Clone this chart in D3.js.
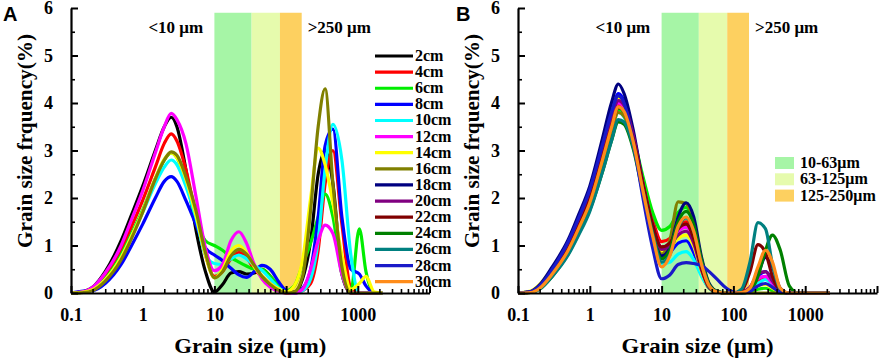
<!DOCTYPE html>
<html>
<head>
<meta charset="utf-8">
<script src="https://cdn.jsdelivr.net/npm/d3@7"></script>
<style>
  body { margin: 0; background: #fff; }
  svg text { font-family: "Liberation Serif", "Times New Roman", serif; font-weight: bold; }
  .panel-letter { font-family: "Liberation Sans", Arial, sans-serif !important; }
</style>
</head>
<body>
<svg id="chart" width="879" height="360"></svg>
<script>
// grain size grid (µm) shared by every curve
const sizes = [0.1, 0.15, 0.2, 0.3, 0.5, 0.7, 1, 1.5, 2, 2.5, 3, 4, 5.5, 7.5, 10, 13, 17, 22, 28, 36, 46, 60, 80, 100, 130, 170, 220, 280, 350, 450, 600, 800, 1050, 1300, 1700, 2200];

const depths = ["2cm", "4cm", "6cm", "8cm", "10cm", "12cm", "14cm", "16cm", "18cm", "20cm", "22cm", "24cm", "26cm", "28cm", "30cm"];
const colors = ["#000000", "#ff0000", "#00ee00", "#0000ff", "#00ffff", "#ff00ff", "#ffff00", "#808000", "#000080", "#800080", "#800000", "#008000", "#008080", "#1a1ac8", "#ff8c1a"];

// panel A (frequency %)
const a2cm  = [0, 0.03, 0.12, 0.45, 1.1, 1.65, 2.25, 3.0, 3.5, 3.7, 3.5, 2.6, 1.35, 0.45, 0.02, 0.18, 0.42, 0.45, 0.4, 0.42, 0.5, 0.35, 0.12, 0.02, 0.02, 0.3, 1.1, 2.5, 3.0, 2.3, 0.4, 0, 0, 0, 0, 0];
const a4cm  = [0, 0.02, 0.08, 0.35, 0.9, 1.4, 1.95, 2.65, 3.15, 3.35, 3.2, 2.6, 1.65, 0.8, 0.35, 0.45, 0.72, 0.85, 0.75, 0.5, 0.35, 0.2, 0.06, 0, 0, 0.05, 0.2, 0.9, 2.3, 3.0, 1.45, 0.1, 0, 0, 0, 0];
const a6cm  = [0, 0.02, 0.07, 0.3, 0.8, 1.25, 1.75, 2.4, 2.8, 2.95, 2.85, 2.35, 1.55, 1.1, 1.0, 0.9, 0.75, 0.65, 0.57, 0.5, 0.5, 0.35, 0.15, 0.05, 0.15, 0.6, 1.05, 1.6, 2.08, 1.6, 0.4, 0.05, 1.35, 0.45, 0, 0];
const a8cm  = [0, 0.04, 0.05, 0.2, 0.6, 1.0, 1.45, 2.0, 2.35, 2.45, 2.35, 1.95, 1.45, 0.95, 0.8, 0.68, 0.52, 0.38, 0.33, 0.45, 0.58, 0.5, 0.22, 0.05, 0, 0.1, 0.5, 1.6, 3.1, 3.45, 1.6, 0.5, 0.4, 0.15, 0, 0];
const a10cm = [0, 0.02, 0.07, 0.28, 0.75, 1.2, 1.7, 2.3, 2.65, 2.8, 2.7, 2.25, 1.6, 0.8, 0.62, 0.6, 0.72, 0.8, 0.72, 0.58, 0.48, 0.3, 0.1, 0.02, 0, 0.05, 0.3, 1.1, 2.6, 3.55, 2.8, 0.8, 0, 0, 0, 0];
const a12cm = [0, 0.03, 0.12, 0.42, 1.0, 1.55, 2.15, 2.95, 3.5, 3.78, 3.65, 3.15, 2.05, 0.95, 0.47, 0.6, 1.1, 1.29, 1.05, 0.6, 0.3, 0.12, 0.03, 0, 0, 0.08, 0.5, 1.1, 1.43, 1.25, 0.4, 0, 0, 0, 0, 0];
const a14cm = [0, 0.02, 0.07, 0.28, 0.75, 1.2, 1.72, 2.42, 2.82, 2.95, 2.85, 2.4, 1.65, 0.8, 0.32, 0.5, 0.88, 1.0, 0.85, 0.55, 0.35, 0.2, 0.08, 0.02, 0.15, 0.7, 2.0, 3.05, 2.7, 1.9, 0.8, 0.08, 0.2, 0.35, 0.02, 0];
const a16cm = [0, 0.01, 0.05, 0.25, 0.7, 1.15, 1.7, 2.4, 2.8, 2.97, 2.9, 2.45, 1.75, 0.85, 0.32, 0.45, 0.78, 0.92, 0.82, 0.58, 0.35, 0.18, 0.05, 0, 0.02, 0.35, 1.75, 3.5, 4.3, 2.3, 0.55, 0, 0, 0, 0, 0];

// panel B
const b4cm  = [0, 0.02, 0.12, 0.42, 0.95, 1.42, 2.0, 2.88, 3.55, 3.95, 3.85, 3.3, 2.35, 1.55, 1.08, 1.15, 1.4, 1.5, 1.2, 0.55, 0.15, 0.02, 0, 0, 0.02, 0.08, 0.25, 0.3, 0.18, 0.03, 0, 0, 0, 0, 0, 0];
const b6cm  = [0, 0.02, 0.1, 0.4, 0.92, 1.38, 1.95, 2.8, 3.45, 3.85, 3.78, 3.3, 2.45, 1.7, 1.32, 1.4, 1.7, 1.8, 1.4, 0.6, 0.15, 0.02, 0, 0, 0, 0.03, 0.08, 0.1, 0.05, 0, 0, 0, 0, 0, 0, 0];
const b8cm  = [0, 0.02, 0.13, 0.47, 1.02, 1.5, 2.1, 3.05, 3.75, 4.2, 4.05, 3.35, 2.25, 1.3, 0.78, 0.85, 1.05, 1.1, 0.85, 0.4, 0.1, 0.02, 0, 0, 0.02, 0.1, 0.35, 0.45, 0.28, 0.05, 0, 0, 0, 0, 0, 0];
const b10cm = [0, 0.03, 0.14, 0.45, 0.95, 1.38, 1.9, 2.75, 3.4, 3.8, 3.7, 3.15, 2.15, 1.2, 0.62, 0.65, 0.82, 0.87, 0.7, 0.35, 0.1, 0.01, 0, 0, 0.01, 0.06, 0.2, 0.28, 0.18, 0.03, 0, 0, 0, 0, 0, 0];
const b12cm = [0, 0.02, 0.12, 0.43, 0.97, 1.44, 2.02, 2.92, 3.6, 4.0, 3.9, 3.3, 2.3, 1.45, 0.97, 1.05, 1.3, 1.38, 1.1, 0.5, 0.13, 0.02, 0, 0, 0.02, 0.1, 0.3, 0.35, 0.2, 0.03, 0, 0, 0, 0, 0, 0];
const b14cm = [0, 0.04, 0.18, 0.52, 1.05, 1.52, 2.12, 3.0, 3.7, 4.1, 3.95, 3.3, 2.25, 1.38, 0.87, 0.95, 1.15, 1.22, 0.98, 0.45, 0.12, 0.02, 0, 0, 0.01, 0.05, 0.15, 0.18, 0.1, 0.02, 0, 0, 0, 0, 0, 0];
const b16cm = [0, 0.02, 0.1, 0.4, 0.9, 1.35, 1.9, 2.75, 3.4, 3.8, 3.72, 3.2, 2.25, 1.35, 0.82, 1.1, 1.92, 1.88, 1.5, 0.55, 0.1, 0.01, 0, 0, 0, 0, 0, 0, 0, 0, 0, 0, 0, 0, 0, 0];
const b18cm = [0, 0.03, 0.17, 0.55, 1.12, 1.65, 2.25, 3.25, 4.0, 4.4, 4.2, 3.45, 2.3, 1.3, 0.78, 0.95, 1.6, 1.9, 1.6, 0.75, 0.2, 0.03, 0, 0, 0.02, 0.08, 0.4, 0.75, 0.55, 0.1, 0, 0, 0, 0, 0, 0];
const b20cm = [0, 0.02, 0.12, 0.43, 0.97, 1.45, 2.05, 2.95, 3.65, 4.05, 3.95, 3.35, 2.3, 1.42, 0.92, 1.0, 1.22, 1.3, 1.05, 0.48, 0.12, 0.02, 0, 0, 0.02, 0.12, 0.4, 0.45, 0.25, 0.04, 0, 0, 0, 0, 0, 0];
const b22cm = [0, 0.02, 0.11, 0.41, 0.93, 1.4, 1.97, 2.85, 3.5, 3.9, 3.82, 3.25, 2.3, 1.45, 0.97, 1.05, 1.35, 1.45, 1.15, 0.52, 0.13, 0.02, 0, 0, 0.05, 0.45, 1.02, 0.85, 0.35, 0.05, 0, 0, 0, 0, 0, 0];
const b24cm = [0, 0.01, 0.08, 0.35, 0.82, 1.25, 1.75, 2.55, 3.2, 3.6, 3.55, 3.05, 2.1, 1.25, 0.72, 0.9, 1.5, 1.72, 1.45, 0.7, 0.18, 0.03, 0, 0, 0, 0.05, 0.35, 0.9, 1.22, 0.9, 0.15, 0, 0, 0, 0, 0];
const b26cm = [0, 0.01, 0.08, 0.35, 0.8, 1.22, 1.72, 2.55, 3.2, 3.65, 3.6, 3.1, 2.15, 1.25, 0.65, 0.8, 1.38, 1.58, 1.3, 0.62, 0.15, 0.02, 0, 0, 0.08, 0.65, 1.48, 1.35, 0.6, 0.08, 0, 0, 0, 0, 0, 0];
const b28cm = [0, 0.03, 0.15, 0.5, 1.08, 1.58, 2.18, 3.12, 3.8, 4.15, 4.0, 3.2, 2.0, 0.95, 0.3, 0.38, 0.6, 0.64, 0.62, 0.58, 0.45, 0.28, 0.1, 0.02, 0, 0.03, 0.15, 0.2, 0.12, 0.02, 0, 0, 0, 0, 0, 0];
const b30cm = [0, 0.01, 0.1, 0.4, 0.9, 1.36, 1.9, 2.8, 3.48, 3.92, 3.82, 3.2, 2.15, 1.2, 0.55, 0.78, 1.4, 1.6, 1.3, 0.6, 0.15, 0.02, 0, 0, 0.01, 0.1, 0.55, 0.9, 0.65, 0.1, 0, 0, 0, 0, 0, 0];

// shaded size bands (edges as drawn in the figure)
const bandEdges = [10, 33, 82, 165];
const bandColors = ["#a6f5a6", "#e6fbad", "#fdd060"];
const bandLabels = ["10-63μm", "63-125μm", "125-250μm"];
const bandTop = 5.9;

const xTicks = [0.1, 1, 10, 100, 1000, 10000];
const yTicks = [0, 1, 2, 3, 4, 5, 6];

const panelA = [[0, a2cm], [1, a4cm], [2, a6cm], [3, a8cm], [4, a10cm], [5, a12cm], [6, a14cm], [7, a16cm]];
const panelB = [[1, b4cm], [2, b6cm], [3, b8cm], [4, b10cm], [5, b12cm], [6, b14cm], [7, b16cm], [8, b18cm],
  [9, b20cm], [10, b22cm], [11, b24cm], [12, b26cm], [13, b28cm], [14, b30cm]];

const svg = d3.select("#chart");

function drawPanel(opt) {
  const g = svg.append("g");

  const x = d3.scaleLog().domain([0.1, 10000]).range([opt.x0, opt.x1]);
  const y = d3.scaleLinear().domain([0, 6]).range([293, 8]);

  // bands
  g.selectAll("rect.band")
    .data(bandColors)
    .enter()
    .append("rect")
    .attr("class", "band")
    .attr("x", (d, i) => x(bandEdges[i]))
    .attr("width", (d, i) => x(bandEdges[i + 1]) - x(bandEdges[i]))
    .attr("y", y(bandTop))
    .attr("height", y(0) - y(bandTop))
    .attr("fill", d => d);

  // curves
  const line = d3.line()
    .x((d, i) => x(sizes[i]))
    .y(d => y(d))
    .curve(d3.curveMonotoneX);

  opt.series.forEach(function(s) {
    g.append("path")
      .datum(s[1])
      .attr("d", line)
      .attr("fill", "none")
      .attr("stroke", colors[s[0]])
      .attr("stroke-width", 3.2)
      .attr("stroke-linejoin", "round");
  });

  // minor x ticks
  const minorX = [];
  [0.1, 1, 10, 100, 1000].forEach(function(dec) {
    for (let k = 2; k <= 9; k++) minorX.push(dec * k);
  });

  g.append("g")
    .attr("transform", "translate(0," + y(0) + ")")
    .call(d3.axisBottom(x).tickValues(minorX).tickSize(-4).tickFormat(""))
    .call(a => a.select(".domain").remove())
    .call(a => a.selectAll("line").attr("stroke-width", 1.6));

  g.append("g")
    .attr("transform", "translate(0," + y(0) + ")")
    .call(d3.axisBottom(x)
      .tickValues(xTicks)
      .tickSizeInner(-7)
      .tickSizeOuter(0)
      .tickPadding(15)
      .tickFormat(d => d < 10000 ? String(d) : ""))
    .call(a => a.select(".domain").attr("stroke-width", 2.2))
    .call(a => a.selectAll("line").attr("stroke-width", 2))
    .call(a => a.selectAll("text").attr("font-size", 18).attr("fill", "#000"));

  // y axis
  const minorY = [0.5, 1.5, 2.5, 3.5, 4.5, 5.5];
  g.append("g")
    .attr("transform", "translate(" + opt.x0 + ",0)")
    .call(d3.axisLeft(y).tickValues(minorY).tickSize(-4).tickFormat(""))
    .call(a => a.select(".domain").remove())
    .call(a => a.selectAll("line").attr("stroke-width", 1.6));

  g.append("g")
    .attr("transform", "translate(" + opt.x0 + ",0)")
    .call(d3.axisLeft(y)
      .tickValues(yTicks)
      .tickSizeInner(-7)
      .tickSizeOuter(0)
      .tickPadding(18)
      .tickFormat(d3.format("d")))
    .call(a => a.select(".domain").attr("stroke-width", 2.2))
    .call(a => a.selectAll("line").attr("stroke-width", 2))
    .call(a => a.selectAll("text").attr("font-size", 18).attr("fill", "#000"));

  // titles
  g.append("text")
    .attr("transform", "translate(" + (opt.x0 - 39) + ",141) rotate(-90)")
    .attr("text-anchor", "middle")
    .attr("font-size", 20)
    .attr("textLength", 214)
    .attr("lengthAdjust", "spacingAndGlyphs")
    .text("Grain size frquency(%)");

  g.append("text")
    .attr("x", (opt.x0 + opt.x1) / 2)
    .attr("y", 353)
    .attr("text-anchor", "middle")
    .attr("font-size", 22)
    .attr("textLength", 152)
    .attr("lengthAdjust", "spacingAndGlyphs")
    .text("Grain size (μm)");

  g.append("text")
    .attr("x", x(opt.lowLabel))
    .attr("y", 33)
    .attr("font-size", 17)
    .text("<10 μm");

  g.append("text")
    .attr("x", x(opt.highLabel))
    .attr("y", 33)
    .attr("font-size", 17)
    .text(">250 μm");

  g.append("text")
    .attr("class", "panel-letter")
    .attr("x", opt.letterX)
    .attr("y", 21)
    .attr("font-size", 20)
    .text(opt.letter);

  return g;
}

drawPanel({ x0: 71, x1: 429.5, series: panelA, letter: "A", letterX: 3, lowLabel: 1.2, highLabel: 200 });
const gB = drawPanel({ x0: 518, x1: 877, series: panelB, letter: "B", letterX: 456, lowLabel: 1.2, highLabel: 200 });

// depth legend (panel A)
const legA = svg.append("g");
depths.forEach(function(d, i) {
  const yy = 56 + i * 16.12;
  legA.append("line")
    .attr("x1", 375).attr("x2", 413)
    .attr("y1", yy).attr("y2", yy)
    .attr("stroke", colors[i])
    .attr("stroke-width", 3.2);
  legA.append("text")
    .attr("x", 415)
    .attr("y", yy + 5)
    .attr("font-size", 16)
    .text(d);
});

// band legend (panel B)
bandLabels.forEach(function(d, i) {
  const yy = 157 + i * 16.3;
  gB.append("rect")
    .attr("x", 775).attr("y", yy)
    .attr("width", 19).attr("height", 12)
    .attr("fill", bandColors[i]);
  gB.append("text")
    .attr("x", 800)
    .attr("y", yy + 11)
    .attr("font-size", 16)
    .text(d);
});
</script>
</body>
</html>
